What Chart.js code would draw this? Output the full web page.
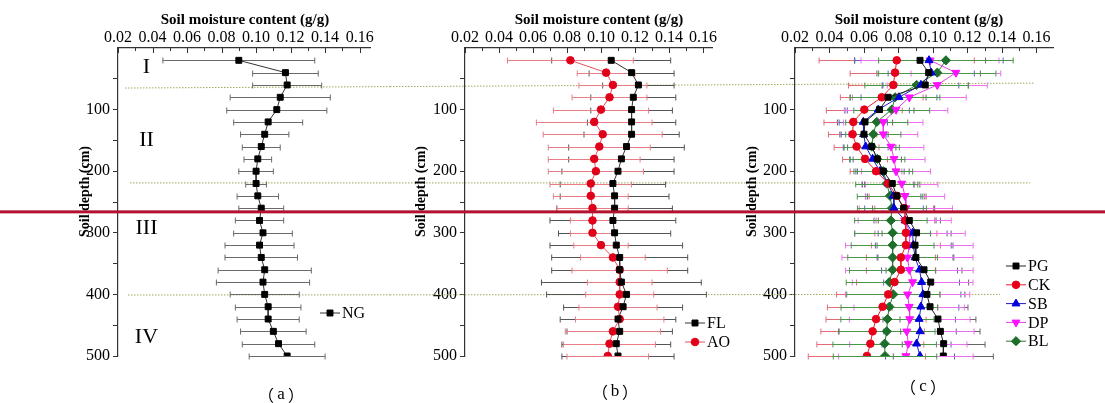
<!DOCTYPE html>
<html>
<head>
<meta charset="utf-8">
<script src="https://cdn.jsdelivr.net/npm/chart.js@4.4.1/dist/chart.umd.min.js"></script>
<style>
html, body { margin: 0; padding: 0; background: #fff; overflow: hidden; }
#wrap { position: relative; width: 1105px; height: 403px; }
canvas { position: absolute; top: 0; }
</style>
</head>
<body>
<div id="wrap">
  <canvas id="cA" width="390" height="403" style="left:0px"></canvas>
  <canvas id="cB" width="345" height="403" style="left:390px"></canvas>
  <canvas id="cC" width="370" height="403" style="left:735px"></canvas>
</div>
<script>
// soil depth of every sample (cm)
const depths = [20, 40, 60, 80, 100, 120, 140, 160, 180, 200, 220, 240, 260, 280, 300, 320, 340, 360, 380, 400, 420, 440, 460, 480, 500];

// (a) NG
const ngMean = [0.090, 0.117, 0.118, 0.114, 0.112, 0.107, 0.105, 0.103, 0.101, 0.100, 0.100, 0.101, 0.103, 0.102, 0.104, 0.102, 0.103, 0.105, 0.104, 0.105, 0.107, 0.107, 0.110, 0.113, 0.118];
const ngSd = [0.044, 0.019, 0.020, 0.029, 0.029, 0.020, 0.014, 0.011, 0.008, 0.010, 0.006, 0.012, 0.013, 0.014, 0.017, 0.020, 0.021, 0.027, 0.027, 0.020, 0.019, 0.018, 0.019, 0.021, 0.022];

// (b) FL and AO
const flMean = [0.106, 0.118, 0.122, 0.119, 0.118, 0.118, 0.118, 0.115, 0.112, 0.110, 0.107, 0.108, 0.108, 0.107, 0.108, 0.109, 0.111, 0.111, 0.112, 0.115, 0.113, 0.110, 0.111, 0.109, 0.110];
const flSd = [0.035, 0.025, 0.021, 0.025, 0.024, 0.026, 0.028, 0.034, 0.031, 0.033, 0.031, 0.032, 0.034, 0.037, 0.033, 0.039, 0.040, 0.040, 0.047, 0.047, 0.035, 0.034, 0.031, 0.032, 0.033];
const aoMean = [0.082, 0.103, 0.107, 0.105, 0.100, 0.096, 0.101, 0.099, 0.096, 0.097, 0.094, 0.094, 0.095, 0.095, 0.095, 0.100, 0.107, 0.111, 0.111, 0.111, 0.110, 0.111, 0.107, 0.105, 0.104];
const aoSd = [0.037, 0.017, 0.020, 0.022, 0.028, 0.034, 0.035, 0.030, 0.027, 0.028, 0.024, 0.022, 0.021, 0.013, 0.013, 0.016, 0.019, 0.028, 0.019, 0.020, 0.023, 0.026, 0.028, 0.027, 0.024];

// (c) PG, CK, SB, DP, BL
const pgMean = [0.0925, 0.0975, 0.0955, 0.074, 0.069, 0.0606, 0.060, 0.0645, 0.0677, 0.0712, 0.0764, 0.079, 0.083, 0.0863, 0.0905, 0.0896, 0.0901, 0.0948, 0.0987, 0.0965, 0.0983, 0.1029, 0.1043, 0.1062, 0.106];
const pgSd = [0.038, 0.030, 0.025, 0.022, 0.020, 0.016, 0.014, 0.014, 0.014, 0.015, 0.016, 0.017, 0.018, 0.018, 0.020, 0.022, 0.022, 0.022, 0.022, 0.022, 0.022, 0.022, 0.023, 0.024, 0.029];
const ckMean = [0.079, 0.078, 0.077, 0.0703, 0.0602, 0.0538, 0.0534, 0.0557, 0.0606, 0.067, 0.074, 0.079, 0.0833, 0.084, 0.0843, 0.0843, 0.0814, 0.0814, 0.0777, 0.0741, 0.0708, 0.067, 0.065, 0.0637, 0.0617];
const ckSd = [0.045, 0.026, 0.026, 0.024, 0.022, 0.017, 0.014, 0.013, 0.013, 0.015, 0.015, 0.016, 0.017, 0.017, 0.018, 0.020, 0.020, 0.020, 0.022, 0.030, 0.032, 0.029, 0.030, 0.031, 0.034];
const sbMean = [0.0977, 0.099, 0.093, 0.0803, 0.0683, 0.0596, 0.0598, 0.061, 0.065, 0.0693, 0.074, 0.077, 0.0774, 0.0838, 0.0882, 0.0886, 0.0896, 0.0922, 0.0934, 0.0942, 0.093, 0.092, 0.0925, 0.0905, 0.0925];
const sbSd = [0.043, 0.025, 0.022, 0.022, 0.018, 0.014, 0.013, 0.013, 0.013, 0.014, 0.015, 0.016, 0.017, 0.018, 0.020, 0.022, 0.022, 0.022, 0.022, 0.022, 0.022, 0.021, 0.021, 0.020, 0.020];
const dpMean = [0.0983, 0.1133, 0.1025, 0.0863, 0.0786, 0.0712, 0.0712, 0.0757, 0.0774, 0.0786, 0.0819, 0.0838, 0.0843, 0.0836, 0.0867, 0.0863, 0.0852, 0.0863, 0.0882, 0.0853, 0.0862, 0.0865, 0.0848, 0.0857, 0.0843];
const dpSd = [0.040, 0.026, 0.029, 0.033, 0.030, 0.023, 0.020, 0.019, 0.018, 0.020, 0.021, 0.023, 0.027, 0.027, 0.032, 0.037, 0.038, 0.037, 0.035, 0.036, 0.032, 0.035, 0.039, 0.034, 0.039];
const blMean = [0.1075, 0.1025, 0.0905, 0.078, 0.0761, 0.0674, 0.0654, 0.0645, 0.0677, 0.0712, 0.0732, 0.0751, 0.0762, 0.0756, 0.0766, 0.0766, 0.0766, 0.0766, 0.0747, 0.0770, 0.0747, 0.0736, 0.0732, 0.0720, 0.0722];
const blSd = [0.039, 0.034, 0.030, 0.026, 0.022, 0.018, 0.016, 0.016, 0.016, 0.017, 0.018, 0.019, 0.020, 0.021, 0.022, 0.024, 0.026, 0.025, 0.025, 0.027, 0.028, 0.027, 0.028, 0.030, 0.030];

// soil layers in panel (a)
const zoneLabels = ['I', 'II', 'III', 'IV'];
const zoneDepths = [31, 149, 292, 469];

const xTicks = [0.02, 0.04, 0.06, 0.08, 0.10, 0.12, 0.14, 0.16];
const yTicks = [100, 200, 300, 400, 500];

const fam = "'Liberation Serif', 'Times New Roman', serif";
Chart.defaults.font.family = fam;
Chart.defaults.color = '#000';

// dotted layer borders run across all three panels (page x, depth at both ends)
const layerLines = [
    { x1: 125, x2: 1035, d1: 65, d2: 57 },
    { x1: 130, x2: 1030, d1: 219, d2: 219 },
    { x1: 128, x2: 1000, d1: 401, d2: 400 }
];
const redLineDepth = 266;

const panels = {
    cA: {
        left: 0, width: 390, padL: 73, padR: 20, yW: 45, xMax: 0.166,
        xTitleX: 245, yTitleX: 85, caption: 'a', capX: 281, capY: 395,
        legend: { x: 330, y: 313, dy: 19 }, zones: true,
        series: [
            { label: 'NG', mean: ngMean, sd: ngSd, line: '#333', fill: '#000', err: '#6a6a6a', shape: 'rect', r: 4.2 }
        ]
    },
    cB: {
        left: 390, width: 345, padL: 19, padR: 23, yW: 56, xMax: 0.1653,
        xTitleX: 599, yTitleX: 421, caption: 'b', capX: 615, capY: 392,
        legend: { x: 695, y: 323, dy: 19 },
        series: [
            { label: 'FL', mean: flMean, sd: flSd, line: '#333', fill: '#000', err: '#555', shape: 'rect', r: 4.2 },
            { label: 'AO', mean: aoMean, sd: aoSd, line: '#e8505c', fill: '#e0001a', err: '#e87d86', shape: 'circle', r: 3.8 }
        ]
    },
    cC: {
        left: 735, width: 370, padL: 5, padR: 52, yW: 55, xMax: 0.1696,
        xTitleX: 919, yTitleX: 752, caption: 'c', capX: 923, capY: 387,
        legend: { x: 1016, y: 266, dy: 18.8 },
        series: [
            { label: 'PG', mean: pgMean, sd: pgSd, line: '#222', fill: '#000', err: '#666', shape: 'rect', r: 4.2 },
            { label: 'CK', mean: ckMean, sd: ckSd, line: '#e8202c', fill: '#e8001a', err: '#e46a78', shape: 'circle', r: 3.8 },
            { label: 'SB', mean: sbMean, sd: sbSd, line: '#1a1acc', fill: '#0000dd', err: '#5a62c0', shape: 'triangle', r: 4.6 },
            { label: 'DP', mean: dpMean, sd: dpSd, line: '#e040e0', fill: '#ff10ff', err: '#ee70ee', shape: 'triangle', rot: 180, r: 4.6 },
            { label: 'BL', mean: blMean, sd: blSd, line: '#2a7a2a', fill: '#1d6e2a', err: '#4a954a', shape: 'rectRot', r: 4.6 }
        ]
    }
};

const decor = {
    id: 'decor',
    beforeDatasetsDraw(chart) {
        const p = panels[chart.canvas.id];
        const ctx = chart.ctx, xs = chart.scales.x, ys = chart.scales.y;

        // dotted layer borders
        ctx.save();
        ctx.strokeStyle = '#a5a55c';
        ctx.lineWidth = 1;
        ctx.setLineDash([1.5, 1.5]);
        layerLines.forEach(L => {
            const a = Math.max(L.x1, p.left), b = Math.min(L.x2, p.left + p.width);
            if (b <= a) return;
            const dAt = x => L.d1 + (L.d2 - L.d1) * (x - L.x1) / (L.x2 - L.x1);
            ctx.beginPath();
            ctx.moveTo(a - p.left, ys.getPixelForValue(dAt(a)));
            ctx.lineTo(b - p.left, ys.getPixelForValue(dAt(b)));
            ctx.stroke();
        });
        ctx.restore();

        // error bars
        chart.data.datasets.forEach(ds => {
            ctx.save();
            ctx.strokeStyle = ds.errColor;
            ctx.lineWidth = 1;
            ds.data.forEach((pt, j) => {
                const y = Math.round(ys.getPixelForValue(pt.y)) + 0.5;
                const x1 = xs.getPixelForValue(pt.x - ds.sd[j]);
                const x2 = xs.getPixelForValue(pt.x + ds.sd[j]);
                ctx.beginPath();
                ctx.moveTo(x1, y); ctx.lineTo(x2, y);
                ctx.moveTo(x1, y - 3); ctx.lineTo(x1, y + 3);
                ctx.moveTo(x2, y - 3); ctx.lineTo(x2, y + 3);
                ctx.stroke();
            });
            ctx.restore();
        });
    },
    afterDraw(chart) {
        const p = panels[chart.canvas.id];
        const ctx = chart.ctx, xs = chart.scales.x, ys = chart.scales.y;
        const area = chart.chartArea;

        ctx.save();
        // inward ticks on the top axis
        ctx.strokeStyle = '#333';
        ctx.lineWidth = 1;
        for (let k = 2; k <= 16; k++) {
            const x = Math.round(xs.getPixelForValue(k / 100)) + 0.5;
            ctx.beginPath();
            ctx.moveTo(x, area.top);
            ctx.lineTo(x, area.top + (k % 2 === 0 ? 5 : 3));
            ctx.stroke();
        }

        // axis titles
        ctx.fillStyle = '#000';
        ctx.textAlign = 'center';
        ctx.textBaseline = 'middle';
        ctx.font = 'bold 15px ' + fam;
        ctx.fillText('Soil moisture content (g/g)', p.xTitleX - p.left, 20);
        ctx.save();
        ctx.translate(p.yTitleX - p.left, 191.5);
        ctx.rotate(-Math.PI / 2);
        ctx.font = 'bold 14px ' + fam;
        ctx.fillText('Soil depth (cm)', 0, 0);
        ctx.restore();

        // caption with full-width parentheses
        const cx = p.capX - p.left;
        ctx.font = "16px 'Noto Sans CJK SC'";
        ctx.fillText('（', cx - 15, p.capY);
        ctx.fillText('）', cx + 15, p.capY);
        ctx.font = '17px ' + fam;
        ctx.fillText(p.caption, cx, p.capY);

        // soil layer numerals
        if (p.zones) {
            ctx.font = '22px ' + fam;
            zoneLabels.forEach((z, i) => {
                ctx.fillText(z, xs.getPixelForValue(0.0365), ys.getPixelForValue(zoneDepths[i]));
            });
        }

        // legend
        chart.data.datasets.forEach((ds, i) => {
            const x = p.legend.x - p.left, y = p.legend.y + i * p.legend.dy;
            ctx.strokeStyle = ds.borderColor;
            ctx.lineWidth = 1;
            ctx.beginPath();
            ctx.moveTo(x - 10, y); ctx.lineTo(x + 10, y);
            ctx.stroke();
            ctx.fillStyle = ds.pointBackgroundColor;
            ctx.strokeStyle = ds.pointBorderColor;
            Chart.helpers.drawPoint(ctx, { pointStyle: ds.pointStyle, rotation: ds.pointRotation, radius: ds.pointRadius, borderWidth: 1 }, x, y);
            ctx.fillStyle = '#000';
            ctx.font = '16px ' + fam;
            ctx.textAlign = 'left';
            ctx.fillText(ds.label, x + 12, y + 1);
        });

        // red marker line across the figure
        ctx.fillStyle = '#b3122e';
        ctx.fillRect(0, ys.getPixelForValue(redLineDepth) - 1.5, p.width, 3);
        ctx.restore();
    }
};

function makeDataset(s) {
    return {
        label: s.label,
        data: depths.map((d, i) => ({ x: s.mean[i], y: d })),
        sd: s.sd,
        errColor: s.err,
        showLine: true,
        borderColor: s.line,
        borderWidth: 1,
        backgroundColor: s.fill,
        pointBackgroundColor: s.fill,
        pointBorderColor: s.fill,
        pointBorderWidth: 1,
        pointStyle: s.shape,
        pointRotation: s.rot || 0,
        pointRadius: s.r,
        tension: 0
    };
}

Object.keys(panels).forEach(id => {
    const p = panels[id];
    new Chart(document.getElementById(id), {
        type: 'scatter',
        data: { datasets: p.series.map(makeDataset) },
        options: {
            responsive: false,
            animation: false,
            events: [],
            layout: { padding: { left: p.padL, right: p.padR, top: 0, bottom: 47 } },
            plugins: { legend: { display: false }, tooltip: { enabled: false } },
            scales: {
                x: {
                    type: 'linear', position: 'top', min: 0.02, max: p.xMax,
                    afterFit: s => { s.height = 48; },
                    afterBuildTicks: s => { s.ticks = xTicks.map(v => ({ value: v })); },
                    grid: { display: false },
                    border: { display: true, color: '#333', width: 1.2 },
                    ticks: { autoSkip: false, maxRotation: 0, padding: -7, font: { size: 16 }, color: '#000',
                             callback: v => v.toFixed(2) }
                },
                y: {
                    type: 'linear', reverse: true, min: 0, max: 500,
                    afterFit: s => { s.width = p.yW; },
                    afterBuildTicks: s => {
                        s.ticks = [50, 100, 150, 200, 250, 300, 350, 400, 450, 500].map(v => ({ value: v }));
                    },
                    grid: { display: true, drawOnChartArea: false, drawTicks: true, tickLength: 5, color: '#333' },
                    border: { display: true, color: '#333', width: 1.2 },
                    ticks: { autoSkip: false, padding: 3, font: { size: 16 }, color: '#000',
                             callback: v => yTicks.includes(v) ? String(v) : '' }
                }
            }
        },
        plugins: [decor]
    });
});
</script>
</body>
</html>
